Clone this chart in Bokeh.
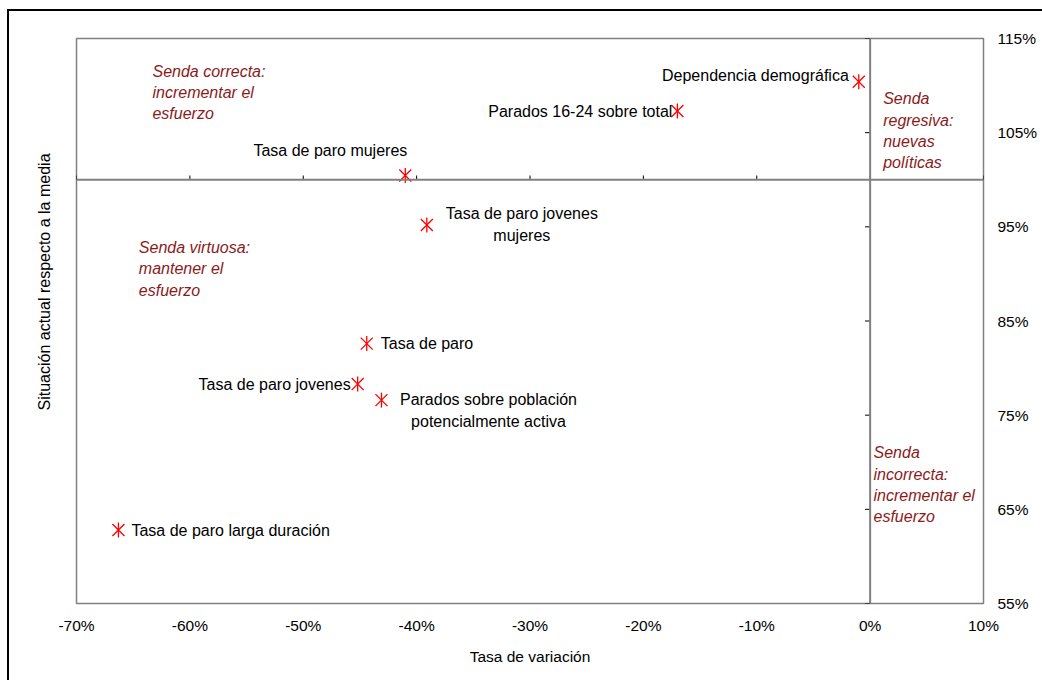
import math
from bokeh.plotting import figure
from bokeh.models import (ColumnDataSource, Span, FixedTicker, PrintfTickFormatter,
                          Title, Range1d)
from bokeh.core.properties import value
from bokeh.embed import file_html
from bokeh.resources import INLINE

# ---- data ----
names = [
    "Dependencia demográfica",
    "Parados 16-24 sobre total",
    "Tasa de paro mujeres",
    "Tasa de paro jovenes\nmujeres",
    "Tasa de paro",
    "Tasa de paro jovenes",
    "Parados sobre población\npotencialmente activa",
    "Tasa de paro larga duración",
]
variation = [-1.0, -17.0, -41.0, -39.1, -44.4, -45.2, -43.1, -66.3]     # Tasa de variación (%)
situation = [110.4, 107.3, 100.45, 95.2, 82.6, 78.3, 76.6, 62.8]      # Situación respecto a la media (%)

x_ticks = [-70, -60, -50, -40, -30, -20, -10, 0, 10]
y_ticks = [55, 65, 75, 85, 95, 105, 115]

quadrant_texts = [
    "Senda correcta:\nincrementar el\nesfuerzo",
    "Senda virtuosa:\nmantener el\nesfuerzo",
    "Senda\nregresiva:\nnuevas\npolíticas",
    "Senda\nincorrecta:\nincrementar el\nesfuerzo",
]
quadrant_x = [-63.3, -64.5, 1.15, 0.3]
quadrant_y = [112.4, 93.7, 109.5, 71.9]

# label placement (screen px)
lab_align = ["right", "right", "right", "center", "left", "right", "center", "left"]
lab_dx = [-10, -5, 2, 95, 14, -7, 107, 13]
lab_dy = [-6, 0, -25, 0, 0, 0, 10, 0]

FONT = "Liberation Sans"

p = figure(frame_width=907, frame_height=565,
           min_border_left=67, min_border_right=59, min_border_top=27, min_border_bottom=77,
           x_range=Range1d(-70, 10), y_range=Range1d(55, 115),
           y_axis_location="right",
           output_backend="svg", toolbar_location=None)

p.styles = {"border-top": "2px solid black", "border-left": "2px solid black",
            "margin-top": "9px", "margin-left": "7px"}

p.grid.visible = False
p.outline_line_color = "#808080"
p.outline_line_width = 1.5
p.background_fill_color = "white"
p.border_fill_color = "white"

# axes
for ax in (p.xaxis[0], p.yaxis[0]):
    ax.axis_line_color = None
    ax.major_tick_line_color = None
    ax.minor_tick_line_color = None
    ax.major_tick_out = 0
    ax.major_tick_in = 0
    ax.major_label_text_font = FONT
    ax.major_label_text_font_size = "15.5px"
    ax.major_label_text_color = "black"
    ax.formatter = PrintfTickFormatter(format="%d%%")

p.xaxis.ticker = FixedTicker(ticks=x_ticks)
p.yaxis.ticker = FixedTicker(ticks=y_ticks)
p.xaxis.major_label_standoff = 13
p.yaxis.major_label_standoff = 14
p.xaxis.axis_label = "Tasa de variación"
p.xaxis.axis_label_text_font = FONT
p.xaxis.axis_label_text_font_size = "15.5px"
p.xaxis.axis_label_text_font_style = "normal"
p.xaxis.axis_label_text_color = "black"
p.xaxis.axis_label_standoff = 11

# crossing axes
p.add_layout(Span(location=0, dimension="height", line_color="#808080", line_width=2))
p.add_layout(Span(location=100, dimension="width", line_color="#808080", line_width=2))

# tick marks on crossing axes
xt = [t for t in x_ticks]
p.segment(x0=xt, y0=[100] * len(xt), x1=xt, y1=[100.45] * len(xt),
          line_color="black", line_width=1)
yt = [t for t in y_ticks]
p.segment(x0=[0] * len(yt), y0=yt, x1=[-0.45] * len(yt), y1=yt,
          line_color="black", line_width=1)

# points (asterisk: vertical stroke + diagonal cross)
src = ColumnDataSource(dict(x=variation, y=situation, name=names,
                            align=lab_align, dx=lab_dx, dy=lab_dy))
p.scatter("x", "y", source=src, marker="x", size=17,
          line_color="#FF0000", line_width=1.3)
p.scatter("x", "y", source=src, marker="dash", size=15, angle=math.pi / 2,
          line_color="#FF0000", line_width=1.3)
p.text("x", "y", text="name", source=src, x_offset="dx", y_offset="dy",
       text_align="align", text_baseline="middle",
       text_font=value(FONT), text_font_size="16px", text_color="black",
       text_line_height=1.3)

# quadrant texts
qsrc = ColumnDataSource(dict(x=quadrant_x, y=quadrant_y, t=quadrant_texts))
p.text("x", "y", text="t", source=qsrc, text_align="left", text_baseline="top",
       text_font=value(FONT), text_font_size="16px", text_font_style="italic",
       text_color="#8B1A1A", text_line_height=1.25)

# y axis title
p.add_layout(Title(text="Situación actual respecto a la media", align="left",
                   offset=193, standoff=47,
                   text_font=FONT, text_font_size="16px", text_font_style="normal",
                   text_color="black"), "left")

open("out.html", "w").write(file_html(p, INLINE))
